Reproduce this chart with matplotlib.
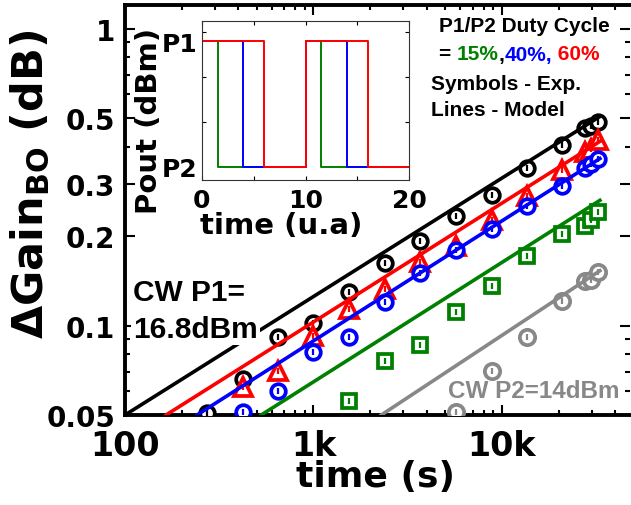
import matplotlib
matplotlib.use("Agg")
import matplotlib.pyplot as plt
from matplotlib.ticker import FixedLocator, LogLocator, NullFormatter

plt.rcParams["font.family"] = ["DejaVu Sans"]
plt.rcParams["font.weight"] = "bold"
plt.rcParams["mathtext.fontset"] = "dejavusans"
plt.rcParams["mathtext.default"] = "bf"

GREEN = "#008000"
BLUE = "#0000ff"
RED = "#ff0000"
GRAY = "#888888"
ARIAL = "Liberation Sans"

W, H = 631, 506

# experimental points: time (s) vs delta gain (dB)
t_cw_p1 = [272, 423, 649, 1000, 1540, 2390, 3670, 5700, 8850, 13600, 20800, 27600, 29700, 32300]
g_cw_p1 = [0.0509, 0.0663, 0.0912, 0.102, 0.130, 0.162, 0.192, 0.233, 0.276, 0.338, 0.406, 0.461, 0.471, 0.483]
t_dc60 = [423, 649, 1000, 1540, 2390, 3670, 5700, 8850, 13600, 20800, 27600, 29700, 32300]
g_dc60 = [0.0623, 0.0705, 0.0925, 0.114, 0.133, 0.164, 0.185, 0.226, 0.274, 0.333, 0.385, 0.394, 0.420]
t_dc40 = [423, 649, 1000, 1540, 2390, 3670, 5700, 8850, 13600, 20800, 27600, 29700, 32300]
g_dc40 = [0.0513, 0.0604, 0.0817, 0.0918, 0.120, 0.150, 0.180, 0.212, 0.252, 0.294, 0.338, 0.351, 0.365]
t_dc15 = [1540, 2390, 3670, 5700, 8850, 13600, 20800, 27600, 29700, 32300]
g_dc15 = [0.0559, 0.0757, 0.0857, 0.111, 0.136, 0.172, 0.204, 0.217, 0.226, 0.242]
t_cw_p2 = [5700, 8850, 13600, 20800, 27600, 29700, 32300]
g_cw_p2 = [0.0513, 0.0705, 0.0918, 0.121, 0.141, 0.142, 0.152]

# model lines (end points, straight on log-log)
mt_cw_p1 = [100, 33000]
mg_cw_p1 = [0.0500, 0.505]
mt_dc60 = [165, 33100]
mg_dc60 = [0.0500, 0.417]
mt_dc40 = [241, 33100]
mg_dc40 = [0.0500, 0.365]
mt_dc15 = [528, 33100]
mg_dc15 = [0.0500, 0.264]
mt_cw_p2 = [2290, 33100]
mg_cw_p2 = [0.0500, 0.153]

# inset: pulsed output power, two periods
P1, P2 = 16.8, 14.0
wave_t15 = [0, 1.5, 1.5, 10, 10, 11.5, 11.5, 20]
wave_t40 = [0, 4, 4, 10, 10, 14, 14, 20]
wave_t60 = [0, 6, 6, 10, 10, 16, 16, 20]
wave_p = [P1, P1, P2, P2, P1, P1, P2, P2]


def fx(x):
    return x / W


def fy(y):
    return 1 - y / H


fig = plt.figure(figsize=(W / 100, H / 100), dpi=100)
ax = fig.add_axes([fx(125), fy(416), 505 / W, 410 / H])

exp_series = [
    (t_cw_p1, g_cw_p1, "o", "black", 10.5),
    (t_dc60, g_dc60, "^", RED, 13.0),
    (t_dc40, g_dc40, "o", BLUE, 10.5),
    (t_dc15, g_dc15, "s", GREEN, 10.0),
    (t_cw_p2, g_cw_p2, "o", GRAY, 11.0),
]
for t, g, m, c, ms in exp_series:
    ax.plot(t, g, linestyle="none", marker=m, ms=ms, mfc="white", mec=c, mew=2.7, zorder=3)
    ax.plot(t, g, linestyle="none", marker="|", ms=4.5, mec=c, mew=1.6, zorder=3)

model_series = [
    (mt_cw_p1, mg_cw_p1, "black"),
    (mt_dc60, mg_dc60, RED),
    (mt_dc40, mg_dc40, BLUE),
    (mt_dc15, mg_dc15, GREEN),
    (mt_cw_p2, mg_cw_p2, GRAY),
]
for t, g, c in model_series:
    ax.plot(t, g, color=c, lw=2.6, zorder=4)

ax.set_xscale("log")
ax.set_yscale("log")
ax.set_xlim(100, 47800)
ax.set_ylim(0.05, 1.2)

ax.xaxis.set_major_locator(FixedLocator([100, 1000, 10000]))
ax.set_xticklabels(["100", "1k", "10k"])
ax.xaxis.set_minor_locator(LogLocator(base=10, subs=range(2, 10)))
ax.xaxis.set_minor_formatter(NullFormatter())
ax.yaxis.set_major_locator(FixedLocator([0.05, 0.1, 0.2, 0.3, 0.5, 1]))
ax.set_yticklabels(["0.05", "0.1", "0.2", "0.3", "0.5", "1"])
ax.yaxis.set_minor_locator(LogLocator(base=10, subs=range(2, 10)))
ax.yaxis.set_minor_formatter(NullFormatter())

ax.tick_params(which="both", direction="in", top=True, right=True, width=1.5, color="black")
ax.tick_params(which="major", length=7)
ax.tick_params(which="minor", length=3.5)
ax.tick_params(axis="x", which="major", labelsize=24, pad=10)
ax.tick_params(axis="y", which="major", labelsize=20, pad=7)
for side in ["left", "top", "bottom"]:
    ax.spines[side].set_linewidth(2.8)
ax.spines["right"].set_visible(False)

ax.set_xlabel("time (s)", fontsize=26, fontweight="bold")
ax.xaxis.set_label_coords(0.497, -0.107)
ax.set_ylabel("\u0394Gain$_{\\mathbf{BO}}$ (dB)", fontsize=31, fontweight="bold")
ax.yaxis.set_label_coords(-0.145, 0.566)

# annotations inside the main plot
box = dict(facecolor="white", edgecolor="none", pad=1.5)
ax.text(fx(133), fy(293), "CW P1=", transform=fig.transFigure, family=ARIAL, fontsize=21.5,
        fontweight="bold", va="center", ha="left", bbox=box, zorder=5)
ax.text(fx(133), fy(330), "16.8dBm", transform=fig.transFigure, family=ARIAL, fontsize=21.5,
        fontweight="bold", va="center", ha="left", bbox=box, zorder=5)
ax.text(fx(448), fy(392), "CW P2=14dBm", transform=fig.transFigure, family=ARIAL, fontsize=17.5,
        fontweight="bold", color=GRAY, va="center", ha="left", zorder=5)

fig.text(fx(439), fy(27), "P1/P2 Duty Cycle", family=ARIAL, fontsize=15, fontweight="bold", va="center")
prev = fig.text(fx(439), fy(55), "= ", family=ARIAL, fontsize=15, fontweight="bold", va="center")
for s, c in [("15%", GREEN), (",", "black"), ("40%,", BLUE), (" 60%", RED)]:
    prev = ax.annotate(s, xy=(1, 0), xycoords=prev, va="bottom", ha="left", color=c,
                       family=ARIAL, fontsize=15, fontweight="bold")
fig.text(fx(431), fy(84), "Symbols - Exp.", family=ARIAL, fontsize=15, fontweight="bold", va="center")
fig.text(fx(431), fy(111), "Lines - Model", family=ARIAL, fontsize=15, fontweight="bold", va="center")

# inset with the duty cycle waveforms
ins = fig.add_axes([fx(202), fy(181), 207 / W, 159 / H])
ins.plot(wave_t15, wave_p, color=GREEN, lw=1.4)
ins.plot(wave_t40, wave_p, color=BLUE, lw=1.4)
ins.plot(wave_t60, wave_p, color=RED, lw=1.4)
ins.set_xlim(0, 20)
ins.set_ylim(13.7, 17.25)
ins.set_xticks([0, 10, 20])
ins.set_xticks([5, 15], minor=True)
ins.set_yticks([P2, P1])
ins.set_yticklabels(["P2", "P1"])
ins.set_yticks([14, 15, 16, 17], minor=True)
ins.tick_params(which="both", direction="in", top=True, right=True, length=3, width=0.8)
ins.tick_params(axis="y", which="major", length=0, labelsize=18, pad=3)
ins.tick_params(axis="x", which="major", labelsize=18, pad=6)
for sp in ins.spines.values():
    sp.set_linewidth(0.8)
    sp.set_color("#333333")
fig.text(fx(281), fy(226), "time (u.a)", fontsize=21, fontweight="bold", ha="center", va="center")
fig.text(fx(149), fy(121), "Pout (dBm)", fontsize=21, fontweight="bold", ha="center", va="center",
         rotation=90)

fig.savefig("out.png", dpi=100)
